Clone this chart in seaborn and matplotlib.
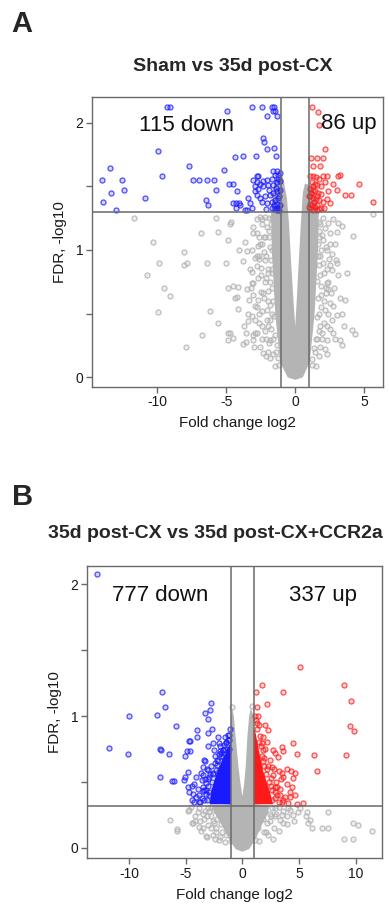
import numpy as np
import pandas as pd
import matplotlib
matplotlib.use("Agg")
import matplotlib.pyplot as plt
from matplotlib.colors import to_rgba
import seaborn as sns

sns.set_style("ticks")
plt.rcParams['font.family'] = ['Liberation Sans', 'DejaVu Sans']

# ---------------- Panel A data ----------------
a_title = "Sham vs 35d post-CX"
a_down_label = "115 down"
a_up_label = "86 up"
a_fc_cut = 1.0
a_fdr_cut = 1.30
a_xticks = [-10, -5, 0, 5]

# dense grey core of the volcano (outline of the solid region)
a_core_x = [0.0, -0.55, -1.1, -1.45, -1.7, -1.75, -1.5, -0.9, -0.6, -0.45, -0.3, -0.1, 0.0,
            0.08, 0.25, 0.4, 0.55, 0.7, 1.3, 1.7, 1.65, 1.4, 1.05, 0.55]
a_core_y = [-0.02, 0.0, 0.12, 0.5, 1.0, 1.3, 1.55, 1.58, 1.4, 1.2, 0.9, 0.55, 0.40,
            0.55, 0.9, 1.2, 1.45, 1.52, 1.5, 1.3, 1.0, 0.5, 0.12, 0.0]

a_gray_x = [-11.67, -5.75, -4.66, -4.73, -6.86, -5.63, -10.29, -4.86, -3.65, -4.11, -8.09, -9.86,
            -7.88, -8.07, -6.43, -5.05, -3.79, -10.75, -9.54, -9.08, -9.98, -6.16, -4.90, -4.54,
            -4.18, -4.25, -4.35, -4.13, -5.61, -6.74, -7.92, -4.86, -4.74, -4.49, -4.86, -3.77,
            -3.58, -3.72, -3.41, -3.12, -3.12, -3.53, -3.09, -3.38, -2.92, -3.53, -3.04, -2.80,
            -2.44, -2.73, -2.92, -2.56, -2.44, -2.20, -2.97, -2.32, -2.80, -3.04,
            -3.04, -3.16, -2.80, -3.04, -2.68, -3.16, -2.92, -2.56, -2.20, -2.44, -2.08, -1.95,
            -2.32, -2.08, -1.95, -1.83, -2.80, -2.56, -3.09,
            -1.9, -2.1, -1.8, -2.0, -1.7, -1.6, -1.4, -1.9, -1.75, -2.2, -2.5, -2.6, -2.4, -2.1,
            -1.8, -1.2, -1.5, -1.35, -1.7, -1.85, -2.3, -2.65, -1.65, -2.0,
            -1.7, -1.9, -2.2, -1.8, -2.3, -2.6, -1.75, -2.0, -2.45, -1.7, -2.15, -2.7, -1.65, -1.95,
            -2.5, -2.25, -1.6, -1.85, -2.8, -2.4, -1.55, -2.05, -2.6, -1.75, -2.2, -1.5, -1.9, -2.4,
            -1.35, -1.6, -2.1, -1.25, -1.5, -2.75, -3.3, -3.4, -3.2, -2.9, -3.6, -2.65,
            5.65, 3.12, 3.36, 2.76, 4.20, 2.95, 3.05, 3.72, 2.51, 2.63, 3.24, 3.60, 2.76, 3.05,
            2.27, 2.39, 3.55, 4.08, 4.33, 3.36, 3.24, 2.51, 2.15, 2.63, 2.27, 2.76, 2.27, 1.79,
            2.15, 2.51, 2.88, 2.27, 2.03, 2.63, 3.0, 2.15, 2.39,
            1.8, 1.9, 2.0, 1.8, 1.9, 1.7, 1.8, 1.6, 1.4, 2.1, 2.3, 1.75, 2.0, 1.2, 1.65, 1.95,
            2.2, 1.7,
            1.7, 1.95, 1.65, 2.2, 1.8, 2.45, 1.7, 2.1, 1.6, 2.4, 1.9, 1.65, 2.2, 2.6, 1.85, 2.35,
            1.55, 2.05, 1.7, 2.5, 1.5, 1.95, 1.35, 1.7, 2.3, 1.2, 1.5, 2.8, 3.1, 2.9, 3.4, 2.55]
a_gray_y = [1.25, 1.25, 1.22, 1.20, 1.13, 1.14, 1.06, 1.08, 1.06, 1.00, 0.98, 0.90,
            0.90, 0.88, 0.90, 0.90, 0.91, 0.80, 0.70, 0.64, 0.51, 0.52, 0.70, 0.72,
            0.71, 0.63, 0.62, 0.54, 0.43, 0.33, 0.24, 0.35, 0.35, 0.31, 0.29, 0.26,
            0.28, 0.40, 0.44, 0.83, 0.74, 0.69, 0.65, 0.61, 0.56, 0.99, 1.18, 1.13,
            1.20, 1.03, 0.94, 1.05, 1.24, 1.26, 0.24, 0.19, 0.35, 0.33,
            1.13, 1.00, 0.87, 0.74, 0.61, 0.48, 0.35, 0.24, 0.92, 1.05, 1.18, 0.82,
            0.66, 0.53, 0.40, 0.29, 1.24, 1.26, 0.29,
            1.10, 0.95, 0.75, 0.60, 0.50, 0.30, 0.20, 1.25, 1.20, 0.75, 0.80, 0.50, 0.40, 0.30,
            0.15, 0.10, 1.45, 1.52, 1.0, 0.45, 1.1, 0.95, 0.85, 0.2,
            1.25, 1.15, 1.10, 1.02, 0.98, 0.93, 0.92, 0.85, 0.86, 0.82, 0.78, 0.78, 0.70, 0.68,
            0.67, 0.62, 0.60, 0.57, 0.55, 0.52, 0.48, 0.45, 0.43, 0.38, 0.36, 0.33, 0.27, 0.30,
            0.25, 0.18, 0.17, 0.15, 0.09, 0.95, 0.85, 0.50, 0.70, 0.45, 0.35, 1.10,
            1.28, 1.21, 1.19, 1.24, 1.11, 0.92, 0.90, 0.82, 0.88, 0.84, 0.62, 0.61, 0.56, 0.49,
            0.74, 0.69, 0.40, 0.37, 0.34, 0.25, 0.29, 0.58, 0.53, 0.45, 0.40, 0.35, 0.29, 0.24,
            0.22, 1.13, 1.05, 1.00, 1.08, 0.97, 1.14, 1.17, 1.21,
            1.20, 1.00, 0.90, 0.80, 0.65, 0.50, 0.40, 0.30, 0.20, 0.60, 0.85, 1.10, 1.25, 0.10,
            0.95, 0.35, 0.7, 1.15,
            1.22, 1.12, 1.05, 1.02, 0.95, 0.93, 0.88, 0.82, 0.76, 0.75, 0.72, 0.62, 0.66, 0.66,
            0.55, 0.50, 0.47, 0.43, 0.36, 0.38, 0.30, 0.30, 0.23, 0.17, 0.18, 0.14, 0.09, 0.70,
            0.80, 0.30, 0.50, 1.05]

a_blue_x = [-9.28, -9.08, -4.95, -3.12, -2.39, -1.71, -1.54, -1.64, -1.47, -2.07, -1.35, -2.36,
            -2.27, -9.97, -1.52, -2.07, -4.37, -3.79, -2.87, -1.42, -13.43, -7.73, -5.14, -9.66,
            -14.0, -12.56, -7.41, -6.98, -6.38, -5.87, -4.78, -4.54, -12.39, -13.33, -5.75, -4.25,
            -10.89, -13.91, -6.47, -6.35, -13.01, -4.5, -4.3, -4.1, -4.32, -3.64, -3.16,
            -2.80, -2.68, -3.04, -2.80, -2.56, -2.32, -2.08, -1.72, -1.47, -1.23, -1.35, -1.60,
            -2.92, -2.68, -2.32, -1.96, -1.60, -1.35, -1.11, -2.80, -2.56, -2.20, -1.84, -1.60,
            -1.35, -1.11, -2.44, -2.08, -1.72, -1.47, -1.23, -1.11, -1.72, -1.47, -1.23, -3.29,
            -3.53, -4.01, -3.41, -2.92, -1.2, -1.3, -1.15, -1.4, -1.25, -1.55, -1.9, -2.15, -1.1,
            -1.35]
a_blue_y = [2.12, 2.12, 2.09, 2.12, 2.12, 2.12, 2.12, 2.09, 2.09, 2.05, 2.05, 1.88,
            1.85, 1.78, 1.80, 1.79, 1.73, 1.74, 1.74, 1.74, 1.64, 1.66, 1.63, 1.58,
            1.55, 1.55, 1.55, 1.55, 1.55, 1.55, 1.52, 1.52, 1.47, 1.45, 1.47, 1.46,
            1.41, 1.38, 1.39, 1.35, 1.31, 1.37, 1.37, 1.37, 1.33, 1.31, 1.33,
            1.58, 1.58, 1.55, 1.53, 1.52, 1.54, 1.55, 1.56, 1.59, 1.59, 1.62, 1.62,
            1.50, 1.48, 1.50, 1.51, 1.51, 1.53, 1.54, 1.43, 1.41, 1.42, 1.43, 1.45,
            1.46, 1.47, 1.38, 1.37, 1.38, 1.39, 1.41, 1.35, 1.33, 1.32, 1.33, 1.37,
            1.31, 1.35, 1.41, 1.46, 1.42, 1.36, 1.31, 1.49, 1.56, 1.35, 1.47, 1.32, 1.60,
            1.31]

a_red_x = [1.23, 1.62, 1.74, 2.15, 1.14, 1.55, 1.98, 1.26, 1.79, 3.24, 3.12, 4.62, 5.65, 3.60,
           4.04, 3.05, 2.71, 2.39, 2.15, 2.27, 2.03, 2.32, 2.51,
           1.1, 1.3, 1.5, 1.7, 1.2, 1.4, 1.6, 1.85, 1.05, 1.25, 1.45, 1.65, 1.9, 1.1, 1.3, 1.5,
           1.75, 2.0, 1.05, 1.2, 1.4, 1.6, 1.85, 1.1, 1.3, 1.55, 1.75, 2.1, 1.15, 1.35, 1.0,
           1.6, 1.25, 1.0]
a_red_y = [2.12, 2.08, 1.98, 1.79, 1.72, 1.72, 1.72, 1.66, 1.66, 1.59, 1.58, 1.52, 1.38, 1.43,
           1.43, 1.47, 1.52, 1.46, 1.53, 1.58, 1.58, 1.40, 1.37,
           1.58, 1.58, 1.57, 1.56, 1.53, 1.52, 1.51, 1.50, 1.48, 1.47, 1.46, 1.45, 1.44, 1.42,
           1.41, 1.40, 1.39, 1.38, 1.36, 1.35, 1.34, 1.35, 1.33, 1.32, 1.31, 1.31, 1.32, 1.33,
           1.45, 1.38, 1.42, 1.42, 1.50, 1.34]

# ---------------- Panel B data ----------------
b_title = "35d post-CX vs 35d post-CX+CCR2a"
b_down_label = "777 down"
b_up_label = "337 up"
b_fc_cut = 1.0
b_fdr_cut = 0.32
b_xticks = [-10, -5, 0, 5, 10]

b_core_x = [0.0, -0.6, -1.2, -1.8, -2.5, -2.7, -1.0, -1.0, -0.9, -0.75, -0.6, -0.35, -0.15, 0.0,
            0.15, 0.3, 0.45, 0.6, 0.75, 1.0, 1.0, 2.4, 2.2, 1.7, 1.2, 0.6]
b_core_y = [-0.03, -0.01, 0.07, 0.17, 0.27, 0.32, 0.33, 0.95, 1.06, 1.0, 0.85, 0.62, 0.48, 0.39,
            0.48, 0.62, 0.85, 1.0, 1.06, 1.0, 0.33, 0.32, 0.25, 0.17, 0.07, -0.01]

b_blue_core_x = [-1.0, -2.9, -2.75, -2.45, -2.1, -1.75, -1.4, -1.15, -1.0]
b_blue_core_y = [0.33, 0.33, 0.42, 0.52, 0.60, 0.67, 0.73, 0.78, 0.80]
b_red_core_x = [1.0, 2.7, 2.45, 2.15, 1.85, 1.6, 1.35, 1.15, 1.0]
b_red_core_y = [0.33, 0.33, 0.42, 0.50, 0.58, 0.68, 0.79, 0.88, 0.91]

b_gray_x = [-6.38, -5.80, -4.77, -4.44, -4.15, -3.65, -3.21, -2.62, -2.03, -3.50, -3.35, -3.06,
            -2.77, -2.47, -2.33, -5.77, -4.39, -3.80, -3.45, -3.15, -2.42, -1.98, -4.68, -2.9,
            -2.2, -1.8, -1.5, -3.9, -1.4, -0.95,
            -3.8, -3.3, -2.8, -2.5, -3.1, -2.6, -2.0, -1.7, -2.3, -1.9, -1.6, -1.2, -2.8, -4.2,
            -3.7, -1.0, -3.0, -2.2, -1.45, -4.5,
            7.53, 9.74, 10.24, 11.41, 8.97, 9.74, 7.59, 7.0, 6.12, 5.83, 5.62, 4.94, 4.50, 3.97,
            3.62, 3.27, 2.68, 5.09, 5.68, 4.21, 2.88, 2.44, 2.15, 3.33, 5.96, 2.9, 3.6, 1.9, 2.3,
            1.5, 0.85,
            1.6, 2.0, 2.6, 3.0, 2.4, 1.8, 2.8, 3.5, 4.0, 1.4, 2.1, 3.9, 4.6, 1.1, 2.5, 3.2]
b_gray_y = [0.21, 0.13, 0.28, 0.19, 0.20, 0.13, 0.09, 0.10, 0.06, 0.26, 0.22, 0.30,
            0.24, 0.19, 0.15, 0.14, 0.19, 0.16, 0.15, 0.08, 0.07, 0.08, 0.29, 0.28,
            0.22, 0.12, 0.04, 0.27, 0.10, 1.07,
            0.30, 0.28, 0.31, 0.29, 0.24, 0.20, 0.26, 0.30, 0.12, 0.18, 0.22, 0.16, 0.15, 0.24,
            0.20, 0.05, 0.17, 0.31, 0.27, 0.31,
            0.27, 0.19, 0.17, 0.13, 0.07, 0.07, 0.15, 0.15, 0.15, 0.19, 0.24, 0.27, 0.25, 0.24,
            0.19, 0.13, 0.07, 0.30, 0.27, 0.29, 0.24, 0.26, 0.19, 0.21, 0.21, 0.30, 0.28, 0.12,
            0.10, 0.05, 1.08,
            0.30, 0.28, 0.30, 0.26, 0.20, 0.22, 0.15, 0.25, 0.30, 0.15, 0.12, 0.18, 0.20, 0.06,
            0.24, 0.31]

b_blue_x = [-12.8, -7.09, -6.80, -10.0, -7.53, -2.74, -2.83, -3.30, -3.06, -5.82, -4.0, -3.0,
            -4.68, -4.59, -3.97, -2.59, -3.06, -11.74, -10.12, -7.24, -7.15, -6.44, -4.88, -4.62,
            -5.09, -3.30, -2.47, -1.94, -1.68, -4.80, -7.24, -6.21, -6.0, -5.06, -5.12, -4.09,
            -4.82, -4.44, -4.24, -4.68, -4.38, -4.09, -4.47, -4.24, -3.80, -3.50, -3.56, -3.65,
            -3.50, -3.35, -3.21, -2.91, -3.06, -3.80, -2.27, -2.18, -2.03, -1.44, -1.15, -1.30,
            -1.74, -1.50, -1.15, -2.65,
            -3.4, -3.0, -2.6, -2.2, -1.9, -2.8, -2.4, -3.9, -3.3, -2.0, -1.3, -1.1, -3.6, -2.5,
            -2.9, -3.7, -1.6, -2.1, -1.2, -3.2,
            -3.15, -2.95, -3.35, -3.05, -2.7, -2.55, -2.3, -2.15, -1.85, -1.55, -1.25, -3.5,
            -3.25, -2.85, -2.45, -2.05, -1.7, -1.4, -3.45, -3.1]
b_blue_y = [2.08, 1.185, 1.071, 1.0, 1.01, 1.096, 1.045, 1.02, 0.975, 0.924, 0.893, 0.873,
            0.812, 0.81, 0.838, 0.797, 0.772, 0.754, 0.714, 0.747, 0.742, 0.711, 0.737, 0.737,
            0.696, 0.661, 0.742, 0.737, 0.742, 0.572, 0.534, 0.506, 0.509, 0.539, 0.514, 0.534,
            0.463, 0.468, 0.483, 0.425, 0.408, 0.387, 0.362, 0.349, 0.40, 0.463, 0.514, 0.564,
            0.615, 0.666, 0.438, 0.539, 0.59, 0.349, 0.666, 0.843, 0.792, 0.792, 0.818, 0.729,
            0.691, 0.838, 0.855, 0.90,
            0.36, 0.47, 0.57, 0.63, 0.72, 0.62, 0.70, 0.45, 0.52, 0.77, 0.86, 0.90, 0.38, 0.45,
            0.40, 0.35, 0.78, 0.58, 0.75, 0.41,
            0.36, 0.42, 0.44, 0.52, 0.50, 0.56, 0.59, 0.66, 0.70, 0.75, 0.82, 0.43,
            0.49, 0.56, 0.64, 0.71, 0.74, 0.80, 0.55, 0.60]

b_red_x = [5.09, 8.94, 9.59, 9.50, 9.88, 9.12, 1.77, 1.21, 3.59, 2.15, 1.27, 4.44, 4.80, 6.33,
           6.62, 3.47, 3.62, 3.18, 2.74, 2.88, 4.27, 4.65, 4.50, 4.36, 4.21, 5.38, 4.86, 4.65,
           4.21, 3.53, 3.62, 3.91, 2.59, 2.44, 2.30, 2.00, 1.86, 1.71, 1.86, 3.33, 3.77, 3.47,
           2.88, 3.03,
           1.3, 1.5, 1.1, 1.6, 2.0, 2.3, 2.7, 3.0, 3.3, 3.6, 4.0, 2.2, 1.4, 2.6, 3.9, 3.2,
           1.2, 1.8, 2.5, 3.4,
           2.85, 2.6, 2.35, 2.1, 1.9, 1.7, 1.45, 1.25, 3.1, 2.9, 2.5, 2.2, 1.95, 1.65, 3.25,
           2.75]
b_red_y = [1.374, 1.233, 1.116, 0.926, 0.888, 0.706, 1.233, 1.185, 1.185, 1.093, 1.071, 0.797,
           0.711, 0.701, 0.585, 0.767, 0.737, 0.691, 0.742, 0.716, 0.585, 0.564, 0.527, 0.463,
           0.425, 0.342, 0.332, 0.40, 0.387, 0.564, 0.539, 0.488, 0.615, 0.666, 0.894, 0.931,
           0.843, 0.792, 0.742, 0.40, 0.387, 0.349, 0.425, 0.463,
           0.95, 0.93, 1.0, 0.85, 0.75, 0.62, 0.55, 0.50, 0.45, 0.36, 0.34, 0.80, 1.0, 0.36,
           0.60, 0.58, 0.97, 0.66, 0.47, 0.52,
           0.38, 0.44, 0.50, 0.56, 0.62, 0.70, 0.80, 0.90, 0.40, 0.46, 0.53, 0.60, 0.68, 0.77,
           0.35, 0.60]

# ---------------- drawing ----------------
GRAY = "#b4b4b4"
BLUE = "#1a1aff"
RED = "#ff1a1a"
LINE = "#6a6a6a"

fig = plt.figure(figsize=(3.89, 9.07), dpi=100)
axA = fig.add_axes([0.2357, 0.5733, 0.749, 0.3197])
axB = fig.add_axes([0.2229, 0.0537, 0.760, 0.3223])


def rings(ax, xs, ys, color, alpha):
    df = pd.DataFrame({"fc": xs, "fdr": ys})
    sns.scatterplot(data=df, x="fc", y="fdr", ax=ax, s=13, color=color, legend=False, zorder=3)
    coll = ax.collections[-1]
    coll.set_facecolor(to_rgba(color, alpha * 0.25))
    coll.set_edgecolor(to_rgba(color, alpha))
    coll.set_linewidth(0.9)


def style(ax, xlim, ylim, xticks, fc_cut, fdr_cut):
    ax.set_xlim(*xlim)
    ax.set_ylim(*ylim)
    ax.axvline(-fc_cut, color=LINE, lw=1.1, zorder=5)
    ax.axvline(fc_cut, color=LINE, lw=1.1, zorder=5)
    ax.axhline(fdr_cut, color=LINE, lw=1.1, zorder=5)
    ax.set_xticks(xticks)
    ax.set_xticklabels([str(t) for t in xticks])
    ax.set_yticks([0, 0.5, 1, 1.5, 2])
    ax.set_yticklabels(["0", "", "1", "", "2"])
    for sp in ax.spines.values():
        sp.set_visible(True)
        sp.set_color(LINE)
        sp.set_linewidth(1.0)
    ax.tick_params(direction="out", length=4, width=1, color=LINE,
                   labelsize=10, labelcolor="#1a1a1a", pad=2)
    ax.set_xlabel("Fold change log2", fontsize=11, color="#1a1a1a", labelpad=5)
    ax.set_ylabel("FDR, -log10", fontsize=11, color="#1a1a1a", labelpad=6)


# Panel A
axA.fill(a_core_x, a_core_y, color=GRAY, lw=0, zorder=2)
rings(axA, a_gray_x, a_gray_y, GRAY, 0.85)
rings(axA, a_blue_x, a_blue_y, BLUE, 0.75)
rings(axA, a_red_x, a_red_y, RED, 0.75)
style(axA, (-14.75, 6.36), (-0.076, 2.20), a_xticks, a_fc_cut, a_fdr_cut)
axA.text(-7.87, 1.937, a_down_label, fontsize=16, ha="center", va="baseline", color="#111", zorder=6)
axA.text(3.91, 1.95, a_up_label, fontsize=16, ha="center", va="baseline", color="#111", zorder=6)

# Panel B
axB.fill(b_core_x, b_core_y, color=GRAY, lw=0, zorder=2)
axB.fill(b_blue_core_x, b_blue_core_y, color=BLUE, lw=0, zorder=2)
axB.fill(b_red_core_x, b_red_core_y, color=RED, lw=0, zorder=2)
rings(axB, b_gray_x, b_gray_y, GRAY, 0.85)
rings(axB, b_blue_x, b_blue_y, BLUE, 0.75)
rings(axB, b_red_x, b_red_y, RED, 0.75)
style(axB, (-13.73, 12.35), (-0.08, 2.14), b_xticks, b_fc_cut, b_fdr_cut)
axB.text(-7.26, 1.875, b_down_label, fontsize=16, ha="center", va="baseline", color="#111", zorder=6)
axB.text(7.15, 1.875, b_up_label, fontsize=16, ha="center", va="baseline", color="#111", zorder=6)

# titles and panel letters
fig.text(11.7 / 389, 1 - 31.7 / 907, "A", fontsize=21, fontweight="bold", va="baseline", ha="left")
fig.text(11.7 / 389, 1 - 505 / 907, "B", fontsize=21, fontweight="bold", va="baseline", ha="left")
fig.text(233 / 389, 1 - 70.7 / 907, a_title, fontsize=14, fontweight="bold", ha="center", va="baseline")
fig.text(48 / 389, 1 - 538.3 / 907, b_title, fontsize=14, fontweight="bold", ha="left", va="baseline")

fig.savefig("out.png", dpi=100)
